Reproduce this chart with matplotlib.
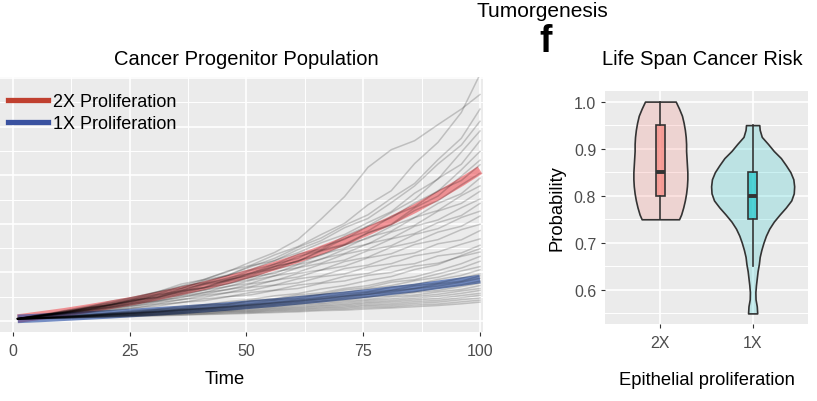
import matplotlib
matplotlib.use('Agg')
import matplotlib.pyplot as plt
from matplotlib.lines import Line2D
from matplotlib.colors import to_rgba

plt.rcParams['font.family'] = ['Liberation Sans', 'DejaVu Sans']

# ---------------- data: left panel ----------------
time = [1, 6, 11, 16, 21, 26, 31, 36, 41, 46, 51, 56, 61, 66, 71, 76, 81, 86, 91, 96, 100]
mean_2x = [10, 23, 36, 51, 67, 84, 103, 124, 146, 170, 197, 226, 257, 292, 329, 370, 414, 462, 515, 572, 621]
mean_1x = [9, 13, 18, 23, 28, 34, 40, 46, 53, 60, 68, 76, 85, 94, 104, 114, 125, 136, 149, 162, 173]

traj_2x = [
    [10, 26, 41, 57, 82, 98, 121, 143, 172, 203, 244, 282, 335, 420, 512, 632, 705, 742, 808, 872, 932],
    [9, 23, 43, 61, 76, 99, 120, 152, 171, 206, 230, 272, 306, 356, 402, 478, 536, 648, 735, 858, 1015],
    [10, 27, 37, 56, 75, 93, 120, 136, 163, 188, 224, 258, 303, 342, 394, 437, 505, 566, 664, 752, 872],
    [11, 21, 41, 54, 72, 90, 113, 133, 168, 189, 228, 248, 294, 331, 384, 422, 487, 556, 646, 724, 822],
    [10, 25, 35, 52, 68, 92, 112, 143, 158, 188, 212, 249, 281, 322, 356, 405, 450, 526, 584, 695, 782],
    [9, 22, 39, 50, 68, 86, 109, 125, 156, 174, 209, 234, 275, 296, 349, 391, 446, 500, 586, 645, 742],
    [10, 22, 34, 54, 68, 88, 101, 133, 152, 178, 197, 234, 258, 305, 336, 390, 425, 486, 534, 622, 698],
    [10, 25, 37, 55, 66, 86, 98, 121, 139, 171, 186, 222, 246, 292, 316, 364, 398, 466, 514, 596, 662],
    [9, 21, 35, 46, 67, 82, 108, 125, 153, 169, 199, 224, 266, 290, 340, 370, 430, 470, 536, 578, 643],
    [10, 24, 35, 54, 66, 85, 98, 126, 138, 168, 192, 226, 245, 288, 312, 362, 395, 455, 495, 560, 608],
    [9, 23, 37, 48, 68, 82, 105, 118, 149, 165, 196, 214, 249, 271, 313, 340, 390, 426, 484, 524, 588],
    [10, 23, 36, 51, 62, 82, 96, 121, 135, 163, 179, 214, 234, 274, 300, 345, 370, 426, 455, 516, 556],
    [10, 21, 35, 47, 64, 76, 97, 113, 138, 152, 182, 196, 232, 254, 295, 317, 366, 394, 452, 484, 534],
    [9, 21, 31, 47, 59, 77, 90, 112, 127, 155, 171, 202, 220, 256, 278, 318, 340, 390, 416, 466, 502],
    [10, 20, 34, 44, 60, 70, 92, 106, 128, 142, 168, 186, 219, 238, 275, 295, 338, 360, 405, 434, 484],
    [10, 23, 33, 47, 57, 74, 84, 104, 117, 143, 156, 186, 201, 234, 251, 290, 310, 356, 380, 426, 452],
    [9, 19, 32, 42, 56, 66, 84, 96, 118, 129, 153, 166, 196, 210, 245, 263, 304, 325, 366, 390, 432],
    [10, 22, 31, 45, 55, 71, 81, 99, 110, 131, 142, 168, 181, 210, 226, 260, 277, 315, 335, 376, 398],
    [9, 18, 31, 40, 53, 62, 78, 88, 106, 117, 139, 148, 174, 186, 216, 230, 265, 280, 318, 334, 372],
    [10, 21, 29, 41, 49, 63, 71, 88, 98, 117, 126, 147, 157, 182, 194, 223, 236, 268, 284, 316, 338],
    [9, 17, 28, 35, 47, 54, 69, 76, 92, 100, 118, 127, 148, 158, 184, 196, 225, 236, 268, 280, 312],
    [10, 19, 25, 36, 43, 55, 62, 77, 84, 100, 108, 126, 134, 155, 165, 188, 200, 226, 238, 266, 284],
]
traj_1x = [
    [9, 15, 19, 28, 33, 43, 49, 60, 67, 80, 89, 104, 113, 132, 146, 167, 183, 212, 232, 270, 298],
    [8, 14, 22, 25, 33, 39, 48, 54, 66, 71, 84, 92, 108, 116, 134, 146, 167, 182, 207, 236, 266],
    [9, 12, 20, 24, 32, 35, 45, 50, 61, 69, 81, 88, 101, 110, 128, 138, 160, 170, 194, 218, 246],
    [9, 15, 17, 25, 29, 37, 41, 49, 55, 65, 73, 85, 94, 109, 118, 133, 146, 166, 180, 206, 224],
    [8, 12, 18, 21, 29, 33, 41, 45, 53, 59, 69, 77, 89, 99, 111, 121, 139, 150, 171, 188, 211],
    [9, 13, 16, 23, 27, 34, 38, 47, 51, 61, 66, 77, 83, 96, 103, 117, 127, 145, 156, 177, 194],
    [9, 14, 18, 22, 29, 32, 40, 44, 53, 57, 67, 72, 84, 90, 103, 110, 125, 134, 152, 164, 186],
    [8, 12, 17, 23, 26, 33, 37, 45, 49, 58, 63, 73, 79, 91, 98, 110, 119, 133, 144, 160, 176],
    [9, 13, 16, 21, 27, 30, 37, 42, 48, 54, 61, 67, 76, 83, 93, 100, 112, 121, 136, 149, 164],
    [9, 12, 17, 20, 26, 30, 35, 40, 45, 52, 57, 65, 71, 80, 87, 97, 104, 117, 126, 142, 156],
    [8, 13, 15, 21, 24, 29, 34, 38, 44, 48, 55, 60, 68, 74, 82, 89, 99, 107, 120, 130, 146],
    [9, 12, 16, 19, 24, 27, 32, 36, 41, 46, 51, 57, 63, 70, 76, 84, 91, 101, 110, 124, 134],
    [9, 11, 15, 18, 23, 25, 30, 34, 38, 43, 47, 53, 58, 65, 70, 78, 84, 94, 102, 114, 126],
    [8, 12, 14, 18, 21, 25, 28, 33, 36, 41, 44, 50, 54, 61, 65, 73, 78, 87, 93, 105, 114],
    [9, 11, 14, 17, 20, 23, 27, 30, 34, 38, 41, 46, 50, 56, 60, 67, 71, 80, 85, 96, 106],
    [9, 12, 13, 17, 19, 23, 25, 29, 31, 36, 38, 43, 46, 52, 55, 62, 65, 73, 78, 88, 95],
    [8, 10, 13, 15, 18, 20, 23, 26, 29, 32, 35, 39, 42, 47, 50, 56, 59, 66, 70, 79, 86],
    [9, 11, 12, 15, 17, 19, 22, 24, 27, 29, 32, 35, 38, 43, 45, 50, 54, 59, 64, 71, 78],
]
series_labels = ['2X Proliferation', '1X Proliferation']
time_ticks = [0, 25, 50, 75, 100]

# ---------------- data: right panel ----------------
risk_groups = ['2X', '1X']
box_q1 = [0.80, 0.75]
box_med = [0.85, 0.80]
box_q3 = [0.95, 0.85]
whisker_lo = [0.75, 0.65]
whisker_hi = [1.00, 0.95]

density_2x_p = [0.75, 0.76, 0.775, 0.79, 0.805, 0.82, 0.835, 0.85, 0.865, 0.88, 0.895,
                0.91, 0.925, 0.94, 0.955, 0.97, 0.985, 1.0]
density_2x = [0.45, 0.50, 0.55, 0.59, 0.62, 0.64, 0.65, 0.65, 0.64, 0.63, 0.62,
              0.62, 0.61, 0.59, 0.56, 0.52, 0.45, 0.37]
density_1x_p = [0.55, 0.565, 0.58, 0.595, 0.61, 0.625, 0.64, 0.655, 0.67, 0.685, 0.70,
                0.715, 0.73, 0.745, 0.76, 0.775, 0.79, 0.805, 0.82, 0.835, 0.85, 0.865,
                0.88, 0.895, 0.91, 0.925, 0.94, 0.95]
density_1x = [0.11, 0.10, 0.07, 0.066, 0.08, 0.10, 0.12, 0.15, 0.17, 0.21, 0.26,
              0.32, 0.40, 0.51, 0.65, 0.80, 0.93, 0.99, 1.0, 0.98, 0.91, 0.80,
              0.68, 0.51, 0.37, 0.22, 0.17, 0.16]
prob_ticks = [0.6, 0.7, 0.8, 0.9, 1.0]

# ---------------- styling ----------------
PANEL = '#EBEBEB'
TXT = '#4D4D4D'
W, H = 817, 402

fig = plt.figure(figsize=(W / 100, H / 100), dpi=100)


def style_panel(ax):
    ax.set_facecolor(PANEL)
    for s in ax.spines.values():
        s.set_visible(False)
    ax.grid(which='major', color='white', lw=1.2)
    ax.grid(which='minor', color='white', lw=0.7)
    ax.set_axisbelow(True)
    ax.tick_params(which='major', colors='#333333', labelcolor=TXT, labelsize=11.5,
                   length=2.8, width=0.8)
    ax.tick_params(which='minor', length=0)


# ---------- left panel ----------
axL = fig.add_axes([-33.7 / W, (H - 333) / H, 516.5 / W, 255 / H])
style_panel(axL)
axL.set_xlim(-10, 100.6)
axL.set_ylim(-45, 1004)
axL.set_xticks(time_ticks)
axL.set_xticks([12.5, 37.5, 62.5, 87.5], minor=True)
axL.set_yticks([0, 200, 400, 600, 800, 1000])
axL.set_yticks([100, 300, 500, 700, 900], minor=True)
axL.tick_params(axis='y', labelleft=False, length=0)
axL.tick_params(axis='x', pad=5)

axL.plot(time, mean_2x, color='#F2464C', alpha=0.55, lw=6.2, solid_capstyle='butt', zorder=2)
axL.plot(time, mean_1x, color='#1E46A0', alpha=0.6, lw=6.2, solid_capstyle='butt', zorder=2)
for tr in traj_2x + traj_1x:
    axL.plot(time, tr, color='black', alpha=0.19, lw=1.1, zorder=3)

axL.set_xlabel('Time', fontsize=13.2, labelpad=9)

handles = [Line2D([], [], color='#C0402F', lw=3.8),
           Line2D([], [], color='#3A52A0', lw=3.8)]
fig.legend(handles, series_labels, loc='upper left',
           bbox_to_anchor=(8 / W, (H - 94) / H), frameon=False, fontsize=13,
           borderpad=0, borderaxespad=0, handlelength=2.2, handletextpad=0.3,
           labelspacing=0.3)

fig.text(246.5 / W, (H - 65) / H, 'Cancer Progenitor Population', ha='center',
         va='baseline', fontsize=14.5)

# ---------- right panel ----------
axR = fig.add_axes([605 / W, (H - 325) / H, 203 / W, 233 / H])
style_panel(axR)
axR.set_xlim(0.4, 2.6)
axR.set_ylim(0.5275, 1.0225)
positions = [1, 2]
axR.set_xticks(positions)
axR.set_xticklabels(risk_groups)
axR.set_yticks(prob_ticks)
axR.set_yticklabels(['%.1f' % v for v in prob_ticks])
axR.set_yticks([0.55, 0.65, 0.75, 0.85, 0.95], minor=True)
axR.tick_params(axis='x', pad=5)

fills = ['#F8766D', '#00BFC4']
half_max = 0.45
profiles = [(density_2x_p, density_2x), (density_1x_p, density_1x)]
for pos, (pp, dd), col in zip(positions, profiles, fills):
    left = [pos - half_max * d for d in dd]
    right = [pos + half_max * d for d in dd]
    axR.fill_betweenx(pp, left, right, facecolor=to_rgba(col, 0.2),
                      edgecolor='#333333', lw=1.2, zorder=2)

stats = []
for i in range(len(risk_groups)):
    stats.append(dict(q1=box_q1[i], med=box_med[i], q3=box_q3[i],
                      whislo=whisker_lo[i], whishi=whisker_hi[i], fliers=[]))
bp = axR.bxp(stats, positions=positions, widths=0.1, patch_artist=True,
             showcaps=False, showfliers=False, manage_ticks=False,
             boxprops=dict(edgecolor='#333333', lw=1.2),
             whiskerprops=dict(color='#333333', lw=1.2),
             medianprops=dict(color='#333333', lw=2.8, solid_capstyle='butt'),
             zorder=3)
for patch, col in zip(bp['boxes'], fills):
    patch.set_facecolor(to_rgba(col, 0.6))

axR.set_xlabel('Epithelial proliferation', fontsize=13.2, labelpad=15)
axR.set_ylabel('Probability', fontsize=13.2, labelpad=6)
fig.text(702 / W, (H - 65) / H, 'Life Span Cancer Risk', ha='center',
         va='baseline', fontsize=14.5)

fig.text(546 / W, (H - 52) / H, 'f', ha='center', va='baseline', fontsize=27,
         fontweight='bold')
fig.text(542.5 / W, (H - 17) / H, 'Tumorgenesis', ha='center', va='baseline',
         fontsize=15)

fig.savefig('out.png', dpi=100)
